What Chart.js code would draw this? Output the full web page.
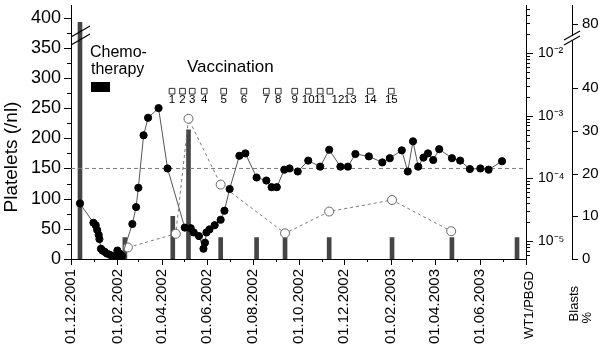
<!DOCTYPE html>
<html><head><meta charset="utf-8">
<script src="https://cdn.jsdelivr.net/npm/chart.js@4/dist/chart.umd.min.js"></script>
<style>html,body{margin:0;padding:0;background:#fff}#wrap{width:600px;height:344px}</style>
</head><body><div id="wrap"><canvas id="c" width="600" height="344"></canvas></div>
<script>
// ---------------- data ----------------
const axisStart = '2001-12-01';
const axisEnd = '2003-08-01';

const plateletDates = ['2001-12-13','2001-12-31','2002-01-03','2002-01-05','2002-01-07','2002-01-08','2002-01-10','2002-01-12','2002-01-15','2002-01-18','2002-01-22','2002-01-26','2002-01-30','2002-02-01','2002-02-04','2002-02-07','2002-02-21','2002-02-26','2002-03-01','2002-03-08','2002-03-14','2002-03-28','2002-04-09','2002-05-02','2002-05-10','2002-05-14','2002-05-21','2002-05-27','2002-05-29','2002-05-31','2002-06-04','2002-06-11','2002-06-19','2002-06-24','2002-07-01','2002-07-14','2002-07-22','2002-08-06','2002-08-19','2002-08-26','2002-09-02','2002-09-12','2002-09-19','2002-09-30','2002-10-14','2002-10-30','2002-11-11','2002-11-26','2002-12-06','2002-12-16','2003-01-03','2003-01-21','2003-01-31','2003-02-16','2003-02-24','2003-03-03','2003-03-10','2003-03-17','2003-03-23','2003-03-30','2003-04-07','2003-04-24','2003-05-05','2003-05-18','2003-06-01','2003-06-12','2003-06-30'];
const plateletValues = [92,60,56,48,40,33,17,14,12,9,7,5,3,14,9,5,58,86,118,205,234,250,150,52,51,44,38,17,27,44,49,56,65,80,116,171,175,135,130,119,119,148,150,145,163,153,181,153,153,174,170,160,167,180,145,195,153,168,175,164,182,167,163,149,150,148,162];

const blastDates = ['2002-02-15','2002-04-20','2002-05-07','2002-06-19','2002-09-13','2002-11-11','2003-02-03','2003-04-23'];
const blastValues = [2.7,5.9,32.8,17.4,6.0,11.1,13.8,6.5];

const wt1Dates = ['2001-12-13','2002-02-11','2002-04-16','2002-05-07','2002-06-19','2002-08-06','2002-09-13','2002-11-11','2003-02-03','2003-04-24','2003-07-20'];
const wt1Values = [0.031,1.13e-5,2.46e-5,5.96e-4,1.13e-5,1.13e-5,1.13e-5,1.13e-5,1.13e-5,1.13e-5,1.13e-5];

const vaccinationDates = ['2002-04-15','2002-04-29','2002-05-12','2002-05-28','2002-06-23','2002-07-20','2002-08-19','2002-09-04','2002-09-26','2002-10-14','2002-10-30','2002-11-12','2002-12-09','2003-01-05','2003-02-02'];
const vaccinationLabels = ['1','2','3','4','5','6','7','8','9','10','11','12','13','14','15'];

const dateTickLabels = ['01.12.2001','01.02.2002','01.04.2002','01.06.2002','01.08.2002','01.10.2002','01.12.2002','01.02.2003','01.04.2003','01.06.2003'];
const plateletTicks = [0,50,100,150,200,250,300,350,400];
const wt1Ticks = [1e-5,1e-4,1e-3,1e-2];
const wt1TickLabels = ['10\u207B\u2075','10\u207B\u2074','10\u207B\u00B3','10\u207B\u00B2'];
const blastTicks = [0,10,20,30,40];
const blastBreakLabel = '80';
const plateletNormal = 150;

// ---------------- helpers ----------------
const T0 = Date.parse(axisStart + 'T00:00:00Z');
const day = s => (Date.parse(s + 'T00:00:00Z') - T0) / 864e5;
const dayFromLabel = l => { const [d,m,y] = l.split('.'); return day(`${y}-${m}-${d}`); };
const maxDay = day(axisEnd);
const FONT = '"Liberation Sans", Arial, Helvetica, sans-serif';
const BLAST_BREAK_POS = 55;   // axis position where the label above the break sits
const VACC_LEVEL = 278;       // height (platelet units) of the vaccination marker row

const monthTicks = [];
{ let y = 2001, m = 11; while (true) { const d = (Date.UTC(y, m, 1) - T0) / 864e5; if (d > maxDay + 0.1) break; monthTicks.push(d); m++; if (m > 11) { m = 0; y++; } } }

const pts = (dates, vals) => dates.map((d, i) => ({ x: day(d), y: vals[i] }));

// ---------------- plugin for decorations ----------------
const deco = {
  id: 'deco',
  afterDraw(chart) {
    const ctx = chart.ctx, xs = chart.scales.x, ys = chart.scales.y, ws = chart.scales.wt1, bs = chart.scales.blasts;
    const ca = chart.chartArea;
    ctx.save();
    ctx.strokeStyle = '#000'; ctx.lineWidth = 1; ctx.fillStyle = '#000';
    const line = (x1, y1, x2, y2) => { ctx.beginPath(); ctx.moveTo(x1, y1); ctx.lineTo(x2, y2); ctx.stroke(); };
    // x ticks (monthly)
    monthTicks.forEach((d, i) => { const x = Math.round(xs.getPixelForValue(d)) + 0.5; line(x, ca.bottom, x, ca.bottom + (i % 2 === 0 ? 6 : 3)); });
    // left ticks
    for (let v = 0; v <= 400; v += 25) { const y = Math.round(ys.getPixelForValue(v)) + 0.5; line(ca.left - (v % 50 === 0 ? 7 : 4), y, ca.left, y); }
    // log ticks
    for (let e = -6; e <= -1; e++) for (let m = 1; m <= 9; m++) {
      const v = m * Math.pow(10, e); if (v < ws.min || v > ws.max) continue;
      const y = Math.round(ws.getPixelForValue(v)) + 0.5; line(ws.left, y, ws.left + (m === 1 ? 7 : 4), y);
    }
    // blasts ticks
    [...blastTicks, BLAST_BREAK_POS].forEach(v => { const y = Math.round(bs.getPixelForValue(v)) + 0.5; line(bs.left, y, bs.left + 6, y); });
    // axis breaks
    ctx.lineWidth = 1.2;
    line(ca.left, 37, ca.left + 19, 26); line(ca.left, 45, ca.left + 19, 34);
    ctx.fillStyle = '#fff'; ctx.fillRect(bs.left - 1, 36, 3, 5); ctx.fillStyle = '#000';
    line(bs.left - 8, 40, bs.left + 8, 31); line(bs.left - 8, 45, bs.left + 8, 36);
    // texts
    ctx.fillStyle = '#000';
    ctx.font = '16px ' + FONT; ctx.textAlign = 'left'; ctx.textBaseline = 'alphabetic';
    ctx.fillText('Chemo-', 90, 57); ctx.fillText('therapy', 91, 74);
    ctx.fillRect(91, 82, 19, 10);
    ctx.font = '17px ' + FONT; ctx.fillText('Vaccination', 187, 72);
    ctx.font = '11.5px ' + FONT; ctx.textAlign = 'center';
    vaccinationDates.forEach((d, i) => { const x = xs.getPixelForValue(day(d)) + (i === 11 ? 8 : 0); ctx.fillText(vaccinationLabels[i], x, 102.5); });
    // axis titles
    const vtext = (t, x, y, size, align) => { ctx.save(); ctx.translate(x, y); ctx.rotate(-Math.PI / 2); ctx.font = size + 'px ' + FONT; ctx.textAlign = align; ctx.textBaseline = 'alphabetic'; ctx.fillText(t, 0, 0); ctx.restore(); };
    vtext('Platelets (/nl)', 17, 157, 19, 'center');
    vtext('WT1/PBGD', 533, 271, 13, 'right');
    vtext('Blasts', 578, 286, 13, 'right');
    vtext('%', 591, 312, 13, 'right');
    ctx.restore();
  }
};

new Chart(document.getElementById('c'), {
  type: 'line',
  data: {
    datasets: [
      { type: 'bar', label: 'WT1/PBGD', yAxisID: 'wt1', data: pts(wt1Dates, wt1Values), backgroundColor: '#454545', borderWidth: 0, barThickness: 4, order: 4 },
      { type: 'line', label: 'normal', yAxisID: 'y', data: [{ x: 0, y: plateletNormal }, { x: maxDay, y: plateletNormal }], borderColor: '#7a7a7a', borderWidth: 1, borderDash: [4, 3], pointRadius: 0, order: 3 },
      { type: 'line', label: 'Blasts', yAxisID: 'blasts', data: pts(blastDates, blastValues), borderColor: '#7a7a7a', borderWidth: 1, borderDash: [3, 3], pointRadius: 4.5, pointBackgroundColor: '#fff', pointBorderColor: '#666', pointBorderWidth: 1, order: 2 },
      { type: 'line', label: 'Platelets', yAxisID: 'y', data: pts(plateletDates, plateletValues), borderColor: '#555', borderWidth: 1, pointRadius: 3.6, pointBackgroundColor: '#000', pointBorderColor: '#000', pointBorderWidth: 1, order: 1 },
      { type: 'line', label: 'Vaccination', yAxisID: 'y', showLine: false, data: vaccinationDates.map(d => ({ x: day(d), y: VACC_LEVEL })), pointStyle: 'rect', pointRadius: 4, pointBackgroundColor: '#fff', pointBorderColor: '#333', pointBorderWidth: 1, order: 0 }
    ]
  },
  options: {
    responsive: false, animation: false, devicePixelRatio: 1,
    layout: { padding: 0 },
    plugins: { legend: { display: false }, tooltip: { enabled: false } },
    scales: {
      x: {
        type: 'linear', min: 0, max: maxDay, offset: false, position: 'bottom',
        afterBuildTicks: s => { s.ticks = dateTickLabels.map(l => ({ value: dayFromLabel(l) })); },
        ticks: { autoSkip: false, minRotation: 90, maxRotation: 90, padding: 3, color: '#000', font: { family: FONT, size: 15 }, callback: (v, i) => dateTickLabels[i] },
        grid: { drawOnChartArea: false, drawTicks: true, tickLength: 7, color: 'transparent' },
        border: { display: true, color: '#000', width: 1 },
        afterFit: s => { s.height = 85; s.paddingLeft = 0; s.paddingRight = 0; }
      },
      y: {
        type: 'linear', position: 'left', min: 0, max: 420,
        afterBuildTicks: s => { s.ticks = plateletTicks.map(v => ({ value: v })); },
        ticks: { padding: 2, color: '#000', font: { family: FONT, size: 18 }, callback: v => String(v) },
        grid: { drawOnChartArea: false, drawTicks: true, tickLength: 8, color: 'transparent' },
        border: { display: true, color: '#000', width: 1 },
        afterFit: s => { s.width = 71; s.paddingTop = 0; s.paddingBottom = 0; }
      },
      wt1: {
        type: 'logarithmic', position: 'right', weight: 0, min: Math.pow(10, -5.29), max: Math.pow(10, -1.24),
        afterBuildTicks: s => { s.ticks = wt1Ticks.map(v => ({ value: v })); },
        ticks: { padding: 4, color: '#000', font: { family: FONT, size: 14 }, callback: (v, i) => wt1TickLabels[i] },
        grid: { drawOnChartArea: false, drawTicks: true, tickLength: 8, color: 'transparent' },
        border: { display: true, color: '#000', width: 1 },
        afterFit: s => { s.width = 46; s.paddingTop = 0; s.paddingBottom = 0; }
      },
      blasts: {
        type: 'linear', position: 'right', weight: 1, min: 0, max: 59.3,
        afterBuildTicks: s => { s.ticks = [...blastTicks, BLAST_BREAK_POS].map(v => ({ value: v })); },
        ticks: { padding: 3, color: '#000', font: { family: FONT, size: 15 }, callback: (v, i) => (i < blastTicks.length ? String(blastTicks[i]) : blastBreakLabel) },
        grid: { drawOnChartArea: false, drawTicks: true, tickLength: 7, color: 'transparent' },
        border: { display: true, color: '#000', width: 1 },
        afterFit: s => { s.width = 28; s.paddingTop = 0; s.paddingBottom = 0; }
      }
    }
  },
  plugins: [deco]
});
</script>
</body></html>
